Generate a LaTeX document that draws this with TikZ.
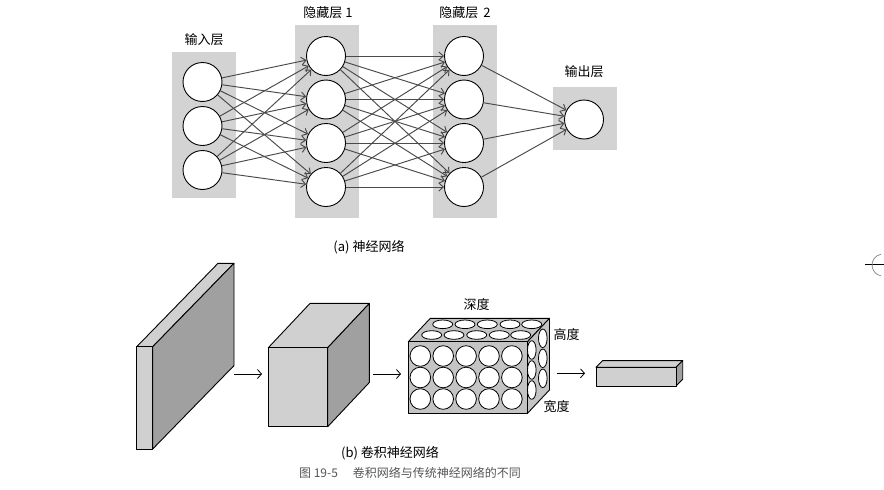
\documentclass[tikz,border=0pt]{standalone}
\usepackage{fontspec}
\setmainfont{Noto Sans CJK SC}
\usetikzlibrary{arrows.meta}
\definecolor{boxgray}{HTML}{D3D3D3}
\definecolor{arrowgray}{HTML}{4A4A4A}
\definecolor{facelight}{HTML}{D0D0D0}
\definecolor{facedark}{HTML}{A0A0A0}
\definecolor{cubegray}{HTML}{C4C4C4}
\definecolor{capgray}{HTML}{555555}
\begin{document}
\begin{tikzpicture}[x=1pt,y=-1pt,
  neuron/.style={circle,draw=black,line width=0.9pt,fill=white,minimum size=39pt,inner sep=0pt},
  layerbox/.style={fill=boxgray,draw=none},
  conn/.style={draw=arrowgray,line width=0.95pt,-{Straight Barb[length=4.5pt,width=8pt]}},
  flow/.style={draw=black,line width=0.8pt,-{Straight Barb[length=4pt,width=9pt]}},
  lbl/.style={font=\fontsize{13}{15}\selectfont,inner sep=0pt},
  figcap/.style={font=\fontsize{12}{14}\selectfont,inner sep=0pt,text=capgray},
  solid3d/.style={draw=black,line width=0.9pt,line join=round},
  hole/.style={draw=black,line width=0.8pt,fill=white}
]
\useasboundingbox (0,0) rectangle (884,490);

% ---------- (a) neural network ----------
\fill[layerbox] (172,52) rectangle (236,198);
\fill[layerbox] (295,25) rectangle (359,218);
\fill[layerbox] (433,25) rectangle (497,218);
\fill[layerbox] (553,87) rectangle (617,150);

\node[lbl] (lin) at (204,40) {输入层};
\node[lbl] (lh1) at (328,13) {隐藏层 1};
\node[lbl] (lh2) at (465,13) {隐藏层 \,2};
\node[lbl] (lout) at (584,72) {输出层};

\foreach \k/\y in {1/82,2/126,3/170}
  \node[neuron] (i\k) at (202.5,\y) {};
\foreach \k/\y in {1/56,2/99.5,3/143,4/187}{
  \node[neuron] (h\k) at (326,\y) {};
  \node[neuron] (g\k) at (464,\y) {};
}
\node[neuron] (o) at (584,119.5) {};

\foreach \a in {1,2,3}
  \foreach \b in {1,2,3,4}
    \draw[conn] (i\a) -- (h\b);
\foreach \a in {1,2,3,4}
  \foreach \b in {1,2,3,4}
    \draw[conn] (h\a) -- (g\b);
\foreach \a in {1,2,3,4}
  \draw[conn] (g\a) -- (o);

\node[lbl] (capa) at (369,247) {(a) 神经网络};

% ---------- (b) convolutional network ----------
% thin slab
\filldraw[solid3d,fill=facelight] (136.7,346.7) -- (152.7,346.7) -- (234,263.3) -- (218,263.3) -- cycle;
\filldraw[solid3d,fill=facedark] (152.7,346.7) -- (234,263.3) -- (234,365.6) -- (152.7,449) -- cycle;
\filldraw[solid3d,fill=facelight] (136.7,346.7) rectangle (152.7,449);
\coordinate (s1) at (234,374);

% cube
\filldraw[solid3d,fill=facelight] (268.3,347.7) -- (327.7,347.7) -- (369.4,303.4) -- (310,303.4) -- cycle;
\filldraw[solid3d,fill=facedark] (327.7,347.7) -- (369.4,303.4) -- (369.4,382.4) -- (327.7,426.7) -- cycle;
\filldraw[solid3d,fill=facelight] (268.3,347.7) rectangle (327.7,426.7);
\coordinate (c0) at (262,374);
\coordinate (c1) at (373,374);

% big cuboid with holes
\filldraw[solid3d,fill=cubegray] (408.3,341.7) -- (527.5,341.7) -- (549.5,318.3) -- (430.3,318.3) -- cycle;
\filldraw[solid3d,fill=cubegray] (527.5,341.7) -- (549.5,318.3) -- (549.5,389.9) -- (527.5,413.3) -- cycle;
\filldraw[solid3d,fill=cubegray] (408.3,341.7) rectangle (527.5,413.3);
\foreach \x in {420.3,443.2,466.1,489,511.9}
  \foreach \y in {356,377.5,399}
    \draw[hole] (\x,\y) circle[radius=10.3];
\foreach \x in {431.7,454,476.7,499.3,520.7}
  \draw[hole] (\x,335) ellipse[x radius=10,y radius=4.3];
\foreach \x in {442.7,465,487.3,510,531.7}
  \draw[hole] (\x,324.3) ellipse[x radius=10,y radius=4.3];
\foreach \y in {350,370,390}
  \draw[hole] (531.8,\y) ellipse[x radius=4.3,y radius=9.3];
\foreach \y in {338.3,358.3,378.3}
  \draw[hole] (542.8,\y) ellipse[x radius=4.3,y radius=9.3];
\coordinate (b0) at (401,374);
\coordinate (b1) at (556.7,373.3);

\node[lbl] (depth) at (476.7,305) {深度};
\node[lbl] (height) at (566.7,335) {高度};
\node[lbl] (width) at (556.7,406.7) {宽度};

% small bar
\filldraw[solid3d,fill=facelight] (596,367.3) -- (676,367.3) -- (682.7,360.6) -- (602.7,360.6) -- cycle;
\filldraw[solid3d,fill=facedark] (676,367.3) -- (682.7,360.6) -- (682.7,379.3) -- (676,386) -- cycle;
\filldraw[solid3d,fill=facelight] (596,367.3) rectangle (676,386);
\coordinate (r0) at (585,373.3);

\draw[flow] (s1) -- (c0);
\draw[flow] (c1) -- (b0);
\draw[flow] (b1) -- (r0);

\node[lbl] (capb) at (390,453) {(b) 卷积神经网络};
\node[figcap] (fig) at (410,472.7) {图 19-5\hspace{15pt}卷积网络与传统神经网络的不同};

% registration mark at the right edge
\coordinate (rm) at (883,265);
\draw[black,line width=0.7pt] (865,264.5) -- (884,264.5);
\draw[gray,line width=0.7pt] (rm) ++(260:11) arc[start angle=260,end angle=100,radius=11];
\end{tikzpicture}
\end{document}
